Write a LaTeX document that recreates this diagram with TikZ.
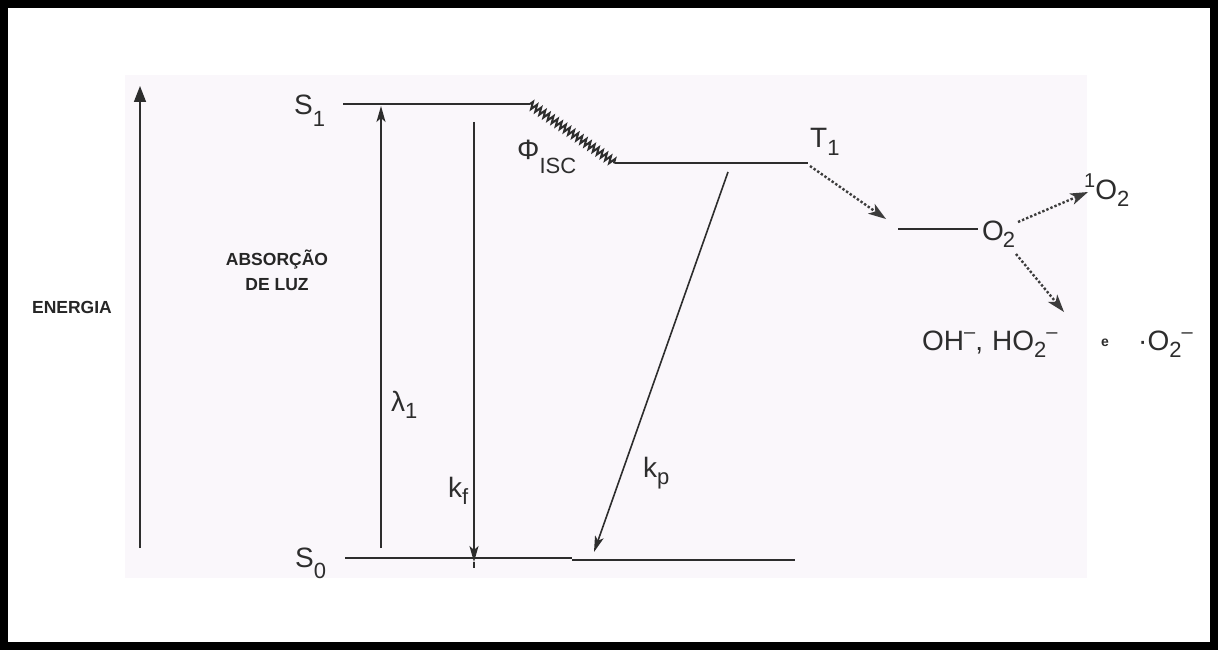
\documentclass[tikz,border=0pt]{standalone}
\usepackage{fontspec}
\setmainfont{Liberation Sans}
\usetikzlibrary{arrows.meta,decorations.pathmorphing}
\definecolor{bgpink}{RGB}{250,247,251}
\definecolor{ink}{RGB}{45,45,45}
\definecolor{dotink}{RGB}{60,60,60}
\newcommand\lsub[2][-0.25em]{\raisebox{#1}{\fontsize{22}{22}\selectfont #2}}
\newcommand\lsup[1]{\raisebox{0.42em}{\fontsize{20}{20}\selectfont #1}}
\begin{document}
\begin{tikzpicture}[x=1pt,y=-1pt,
  lvl/.style={line width=2pt, draw=ink},
  arr/.style={line width=1.6pt, draw=ink, -{Stealth[length=16pt,width=9pt,inset=4pt]}},
  dotarr/.style={line width=2.4pt, draw=dotink, dotted, -{Stealth[length=18pt,width=12pt,inset=5pt,line width=0pt]}},
  lab/.style={font=\fontsize{28}{30}\selectfont, text=ink, inner sep=0pt},
  blab/.style={font=\fontsize{17.5}{25}\selectfont\bfseries, text=black!85, inner sep=0pt, align=center}]
\useasboundingbox (0,0) rectangle (1218,650);
\fill[white] (0,0) rectangle (1218,650);
\fill[bgpink] (125,75) rectangle (1087,578);
\draw[line width=8pt] (3.5,4.5) rectangle (1214,645.5);

% energy axis
\coordinate (eb) at (140,548);
\coordinate (et) at (140,86);
\draw[line width=1.6pt, draw=ink, -{Triangle[length=16pt,width=12pt]}] (eb) -- (et);
\node[blab] (energia) at (72,307) {ENERGIA};
\node[blab] (absorcao) at (277,270) {ABSORÇÃO\\DE LUZ};

% levels
\coordinate (s1a) at (343,104);
\coordinate (s1b) at (530,104);
\coordinate (t1a) at (615,163);
\coordinate (t1b) at (808,163);
\coordinate (s0a) at (345,558);
\coordinate (s0m) at (572,558);
\coordinate (s0n) at (572,560);
\coordinate (s0b) at (795,560);
\draw[lvl] (s1a) -- (s1b);
\draw[lvl, decorate, decoration={zigzag, segment length=5pt, amplitude=3.5pt}] (s1b) -- (t1a);
\draw[lvl] (t1a) -- (t1b);
\draw[lvl] (s0a) -- (s0m);
\draw[lvl, line width=2.6pt] (s0n) -- (s0b);

\node[lab, anchor=base west] (S1) at (294,115) {S\lsub[-0.42em]{1}};
\node[lab, anchor=base west] (T1) at (810,148) {T\lsub{1}};
\node[lab, anchor=base west] (S0) at (295,567) {S\lsub[-0.4em]{0}};
\node[lab, anchor=base west] (phi) at (517,160) {Φ\lsub[-0.5em]{ISC}};

% transitions
\coordinate (lb) at (381,548);
\coordinate (lt) at (381,106);
\draw[arr] (lb) -- (lt);
\node[lab, anchor=base west] (lam) at (391,411) {λ\lsub{1}};

\coordinate (kft) at (474,122);
\coordinate (kfb) at (474,562);
\coordinate (kfe) at (474,568);
\draw[arr] (kft) -- (kfb);
\draw[line width=1.6pt, draw=ink] (kfb) -- (kfe);
\node[lab, anchor=base west] (kf) at (448,497) {k\lsub{f}};

\coordinate (kpt) at (728,172);
\coordinate (kpb) at (594,552);
\draw[arr] (kpt) -- (kpb);
\node[lab, anchor=base west] (kp) at (643,477) {k\lsub{p}};

% oxygen branch
\coordinate (t1e) at (810,166);
\coordinate (o2in) at (886,219);
\draw[dotarr] (t1e) -- (o2in);
\coordinate (o2a) at (898,229);
\coordinate (o2b) at (978,229);
\draw[lvl] (o2a) -- (o2b);
\node[lab, anchor=base west] (O2) at (982,240) {O\kern-1pt\lsub{2}};
\coordinate (o2u) at (1018,222);
\coordinate (so2) at (1088,192);
\draw[dotarr] (o2u) -- (so2);
\node[lab, anchor=base west] (singO2) at (1084,199) {\lsup{1}O\lsub{2}};
\coordinate (o2d) at (1016,254);
\coordinate (prod) at (1064,312);
\draw[dotarr] (o2d) -- (prod);
\node[lab, anchor=base west] (oh) at (922,350) {OH\lsup{–},\hspace{9pt}HO\lsub{2}\lsup{–}};
\node[font=\fontsize{14}{14}\selectfont\bfseries, text=ink, inner sep=0pt] (e) at (1105,343) {e};
\node[lab, anchor=base west] (sup) at (1138,350) {·O\lsub{2}\lsup{–}};
\end{tikzpicture}
\end{document}
